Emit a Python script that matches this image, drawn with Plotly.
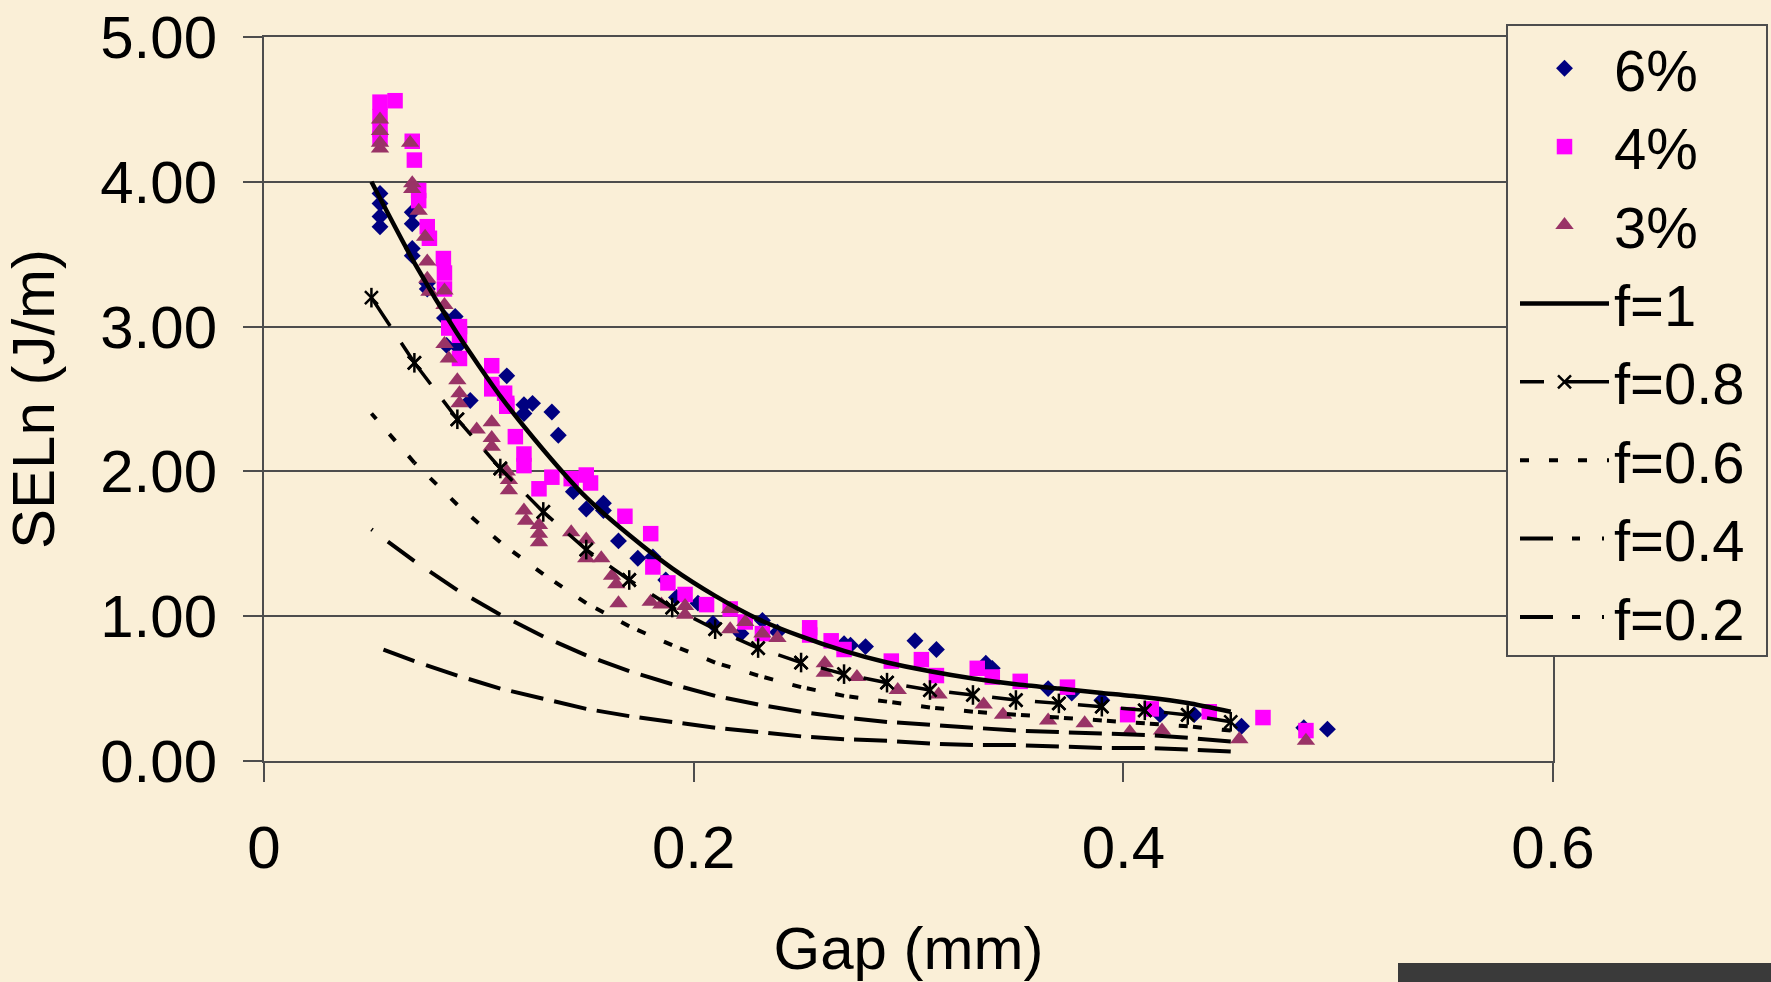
import plotly.graph_objects as go

# ---------------- data ----------------
gap_6 = [0.054, 0.054, 0.054, 0.054, 0.069, 0.069, 0.069, 0.069, 0.076, 0.076,
         0.084, 0.089, 0.085, 0.090, 0.096, 0.113, 0.121, 0.125, 0.121, 0.134,
         0.137, 0.144, 0.150, 0.158, 0.158, 0.165, 0.174, 0.181, 0.187, 0.192,
         0.202, 0.209, 0.222, 0.232, 0.239, 0.270, 0.273, 0.280, 0.303, 0.313,
         0.336, 0.339, 0.365, 0.376, 0.390, 0.417, 0.433, 0.455, 0.484, 0.495]
seln_6 = [3.92, 3.85, 3.76, 3.69, 3.79, 3.71, 3.54, 3.49, 3.30, 3.26,
          3.06, 3.07, 2.87, 2.86, 2.49, 2.66, 2.46, 2.47, 2.40, 2.41,
          2.25, 1.86, 1.74, 1.78, 1.73, 1.52, 1.40, 1.41, 1.25, 1.13,
          1.09, 0.95, 0.88, 0.97, 0.89, 0.81, 0.80, 0.79, 0.83, 0.77,
          0.675, 0.64, 0.50, 0.47, 0.42, 0.32, 0.32, 0.24, 0.23, 0.22]

gap_4 = [0.054, 0.061, 0.054, 0.054, 0.054, 0.069, 0.070, 0.072, 0.072, 0.076,
         0.077, 0.0835, 0.084, 0.084, 0.086, 0.091, 0.091, 0.091, 0.106, 0.106,
         0.106, 0.112, 0.113, 0.113, 0.117, 0.121, 0.121, 0.128, 0.134, 0.143,
         0.150, 0.152, 0.168, 0.180, 0.181, 0.188, 0.196, 0.206, 0.217, 0.224,
         0.232, 0.254, 0.254, 0.264, 0.270, 0.292, 0.306, 0.313, 0.332, 0.339,
         0.352, 0.374, 0.402, 0.413, 0.440, 0.465, 0.485]
seln_4 = [4.55, 4.56, 4.45, 4.36, 4.30, 4.28, 4.15, 3.94, 3.87, 3.69,
          3.61, 3.47, 3.37, 3.26, 2.99, 3.00, 2.94, 2.78, 2.73, 2.60,
          2.57, 2.54, 2.47, 2.45, 2.24, 2.12, 2.04, 1.88, 1.96, 1.95,
          1.975, 1.92, 1.69, 1.57, 1.34, 1.23, 1.15, 1.08, 1.05, 0.96,
          0.88, 0.92, 0.87, 0.83, 0.77, 0.69, 0.70, 0.59, 0.64, 0.58,
          0.55, 0.51, 0.32, 0.36, 0.34, 0.30, 0.21]

gap_3 = [0.054, 0.054, 0.054, 0.054, 0.068, 0.069, 0.069, 0.072, 0.075, 0.076,
         0.076, 0.077, 0.084, 0.084, 0.084, 0.086, 0.090, 0.091, 0.091, 0.099,
         0.106, 0.106, 0.106, 0.113, 0.114, 0.114, 0.121, 0.122, 0.128, 0.128,
         0.128, 0.143, 0.150, 0.150, 0.157, 0.162, 0.164, 0.165, 0.180, 0.185,
         0.196, 0.196, 0.217, 0.217, 0.224, 0.232, 0.239, 0.261, 0.261, 0.276,
         0.295, 0.314, 0.335, 0.344, 0.365, 0.382, 0.403, 0.418, 0.454, 0.485]
seln_3 = [4.43, 4.35, 4.27, 4.23, 4.27, 3.99, 3.95, 3.80, 3.62, 3.45,
          3.33, 3.24, 3.25, 3.15, 2.88, 2.78, 2.63, 2.54, 2.47, 2.29,
          2.34, 2.23, 2.17, 2.00, 1.94, 1.87, 1.73, 1.66, 1.63, 1.57,
          1.51, 1.58, 1.53, 1.40, 1.40, 1.28, 1.22, 1.09, 1.10, 1.08,
          1.07, 1.01, 1.05, 0.91, 0.96, 0.88, 0.85, 0.675, 0.61, 0.58,
          0.49, 0.46, 0.39, 0.32, 0.28, 0.26, 0.20, 0.21, 0.15, 0.14]

fit_gap = [0.05, 0.07, 0.09, 0.11, 0.13, 0.15, 0.17, 0.19, 0.21, 0.23, 0.25,
           0.27, 0.29, 0.31, 0.33, 0.35, 0.37, 0.39, 0.41, 0.43, 0.45]
f_10 = [4.00, 3.44, 2.95, 2.52, 2.15, 1.82, 1.56, 1.33, 1.14, 0.98, 0.86,
        0.76, 0.68, 0.62, 0.57, 0.53, 0.50, 0.47, 0.44, 0.40, 0.34]
f_08 = [3.20, 2.75, 2.36, 2.02, 1.72, 1.46, 1.25, 1.06, 0.91, 0.78, 0.68,
        0.60, 0.541, 0.490, 0.456, 0.421, 0.398, 0.375, 0.350, 0.318, 0.271]
f_06 = [2.40, 2.06, 1.77, 1.51, 1.29, 1.09, 0.93, 0.80, 0.68, 0.59, 0.51,
        0.45, 0.41, 0.37, 0.34, 0.32, 0.30, 0.28, 0.26, 0.24, 0.21]
f_04 = [1.60, 1.38, 1.18, 1.01, 0.86, 0.73, 0.62, 0.53, 0.45, 0.39, 0.34,
        0.30, 0.27, 0.25, 0.23, 0.21, 0.20, 0.19, 0.18, 0.16, 0.135]
f_02 = [0.80, 0.69, 0.59, 0.50, 0.43, 0.36, 0.31, 0.27, 0.23, 0.20, 0.17,
        0.15, 0.14, 0.12, 0.11, 0.11, 0.10, 0.09, 0.09, 0.08, 0.066]

x_ticks = [0, 0.2, 0.4, 0.6]
x_labels = ["0", "0.2", "0.4", "0.6"]
y_ticks = [0, 1, 2, 3, 4, 5]

# ---------------- styling ----------------
FONT = "Liberation Sans, Arial, sans-serif"
FS = 60
BG = "#FAEFD7"
AX = "#4d4d4d"


def seg_rtl(xs, ys):
    """Split a polyline into 2-point pieces drawn right-to-left so the dash
    pattern restarts on every segment (as Excel draws it)."""
    sx, sy = [], []
    for i in range(len(xs) - 1):
        sx += [xs[i + 1], xs[i], None]
        sy += [ys[i + 1], ys[i], None]
    return sx, sy


fig = go.Figure()

fig.add_trace(go.Scatter(x=gap_6, y=seln_6, mode="markers", name="6%",
                         marker=dict(symbol="diamond", size=13, color="#000080")))
fig.add_trace(go.Scatter(x=gap_4, y=seln_4, mode="markers", name="4%",
                         marker=dict(symbol="square", size=15.5, color="#FF00FF")))
fig.add_trace(go.Scatter(x=gap_3, y=seln_3, mode="markers", name="3%",
                         marker=dict(symbol="triangle-up", size=16, color="#993366")))

fig.add_trace(go.Scatter(x=fit_gap, y=f_10, mode="lines", name="f=1",
                         line=dict(color="black", width=4.5, shape="spline",
                                   smoothing=0.6)))

sx, sy = seg_rtl(fit_gap, f_08)
fig.add_trace(go.Scatter(x=sx, y=sy, mode="lines+markers", name="f=0.8",
                         line=dict(color="black", width=3.5, dash="24px,20px,60px"),
                         marker=dict(symbol="x-thin-open", size=13, color="black",
                                     line=dict(width=2.5, color="black"))))
fig.add_trace(go.Scatter(x=fit_gap, y=f_08, mode="markers", showlegend=False,
                         hoverinfo="skip",
                         marker=dict(symbol="line-ns-open", size=14, color="black",
                                     line=dict(width=2.5, color="black"))))

sx, sy = seg_rtl(fit_gap, f_06)
fig.add_trace(go.Scatter(x=sx, y=sy, mode="lines", name="f=0.6",
                         line=dict(color="black", width=4, dash="9px,20px")))
sx, sy = seg_rtl(fit_gap, f_04)
fig.add_trace(go.Scatter(x=sx, y=sy, mode="lines", name="f=0.4",
                         line=dict(color="black", width=4,
                                   dash="33px,19px,8px,22px,2px,22px")))
sx, sy = seg_rtl(fit_gap, f_02)
fig.add_trace(go.Scatter(x=sx, y=sy, mode="lines", name="f=0.2",
                         line=dict(color="black", width=4,
                                   dash="33px,19px,8px,22px,2px,22px")))

fig.update_layout(
    width=1771, height=982,
    margin=dict(l=264, r=218, t=37, b=221, pad=0, autoexpand=False),
    paper_bgcolor=BG, plot_bgcolor=BG,
    font=dict(family=FONT, size=FS, color="black"),
    showlegend=True,
    legend=dict(xref="container", yref="container",
                x=1506 / 1771, y=1 - 24 / 982, xanchor="left", yanchor="top",
                bgcolor="rgba(0,0,0,0)", borderwidth=0,
                font=dict(family=FONT, size=58, color="black"),
                itemwidth=89, indentation=9, tracegroupgap=0,
                itemsizing="trace", maxheight=950),
    xaxis=dict(range=[0, 0.6], tickvals=x_ticks, ticktext=x_labels,
               ticks="outside", ticklen=19, tickwidth=2, tickcolor=AX,
               showline=True, linecolor=AX, linewidth=2, mirror=True,
               showgrid=False, zeroline=False, ticklabelstandoff=14,
               automargin=False,
               tickfont=dict(family=FONT, size=FS, color="black"),
               title=dict(text="Gap (mm)", standoff=47,
                          font=dict(family=FONT, size=FS, color="black"))),
    yaxis=dict(range=[0, 5], tickvals=y_ticks, tickformat=".2f",
               ticks="outside", ticklen=19, tickwidth=2, tickcolor=AX,
               showline=True, linecolor=AX, linewidth=2, mirror=True,
               showgrid=True, gridcolor=AX, gridwidth=1.5, zeroline=False,
               ticklabelstandoff=14, automargin=False,
               tickfont=dict(family=FONT, size=FS, color="black"),
               title=dict(text="SELn (J/m)", standoff=29,
                          font=dict(family=FONT, size=FS, color="black"))),
    shapes=[
        # legend frame (Excel-style box)
        dict(type="rect", xref="paper", yref="paper",
             x0=(1507 - 264) / 1289, x1=(1767 - 264) / 1289,
             y0=(761 - 656) / 724, y1=(761 - 25) / 724,
             fillcolor=BG, line=dict(width=2, color=AX), layer="above"),
        # dark bar at the bottom-right edge of the slide
        dict(type="rect", xref="paper", yref="paper",
             x0=(1398 - 264) / 1289, x1=(1775 - 264) / 1289,
             y0=(761 - 986) / 724, y1=(761 - 963) / 724,
             fillcolor="#3a3a3a", line=dict(width=0), layer="above"),
    ],
)

fig.write_html(
    "out.html",
    config={"displayModeBar": False},
    post_script="document.body.style.margin='0';"
                "document.body.style.overflow='hidden';"
                "document.body.style.background='#FAEFD7';",
)
